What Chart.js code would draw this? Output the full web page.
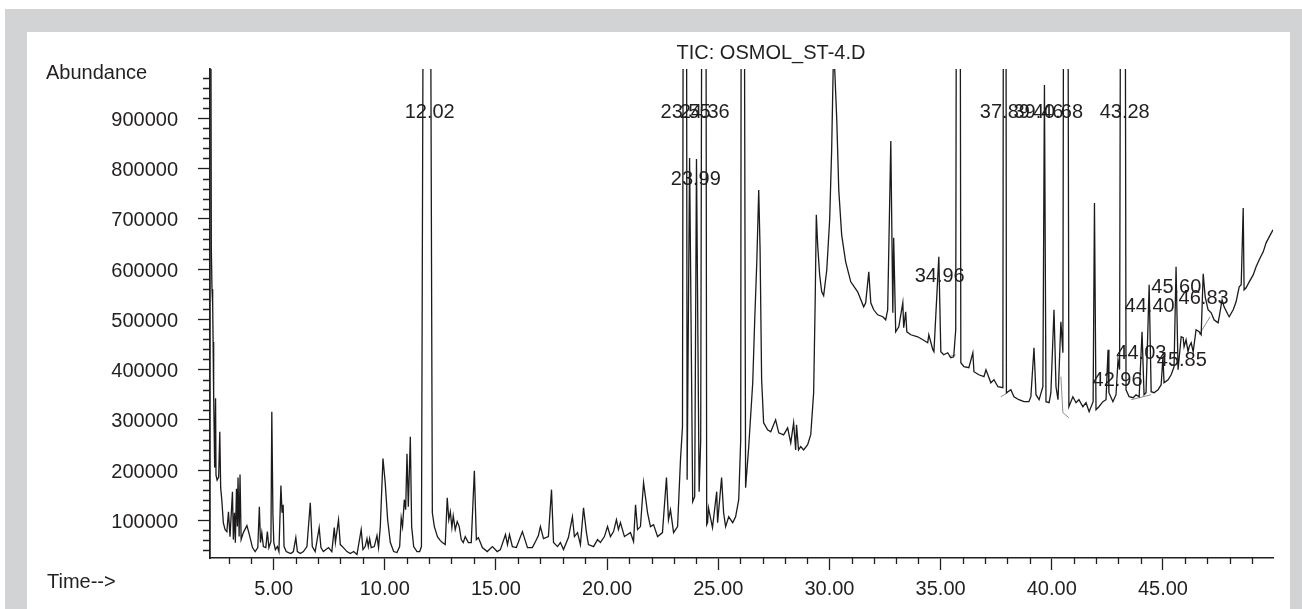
<!DOCTYPE html>
<html>
<head>
<meta charset="utf-8">
<script src="https://cdn.jsdelivr.net/npm/chart.js@4.4.1/dist/chart.umd.min.js"></script>
<style>
  html, body { margin: 0; padding: 0; background: #ffffff; width: 1302px; height: 609px; overflow: hidden; }
  #frame { position: absolute; left: 5px; top: 9px; width: 1297px; height: 600px; background: #d1d3d4; }
  #panel { position: absolute; left: 27px; top: 32px; width: 1263px; height: 577px; background: #ffffff; }
  #wrap { position: absolute; left: 0; top: 0; width: 1302px; height: 609px; }
  .lbl { position: absolute; font-family: "Liberation Sans", Arial, sans-serif; font-size: 20px; line-height: 24px; color: #231f20; white-space: nowrap; }
</style>
</head>
<body>
<div id="frame"></div>
<div id="panel"></div>
<div id="wrap"><canvas id="c" width="1302" height="609"></canvas></div>
<div class="lbl" id="title" style="left:771px; top:40px; transform:translateX(-50%);">TIC: OSMOL_ST-4.D</div>
<div class="lbl" style="left:46px; top:60px;">Abundance</div>
<div class="lbl" style="left:47px; top:569px;">Time--&gt;</div>
<script>
// ---- data (time in min, abundance) ----
const retentionTime = [
  2.15, 2.20, 2.23, 2.26, 2.28, 2.30, 2.31, 2.35, 2.39, 2.41, 2.46, 2.53, 2.58, 2.62, 2.67, 2.74, 2.82, 2.90, 2.97, 3.04,
  3.15, 3.19, 3.24, 3.28, 3.33, 3.37, 3.40, 3.45, 3.49, 3.54, 3.64, 3.80, 3.91, 4.05, 4.17, 4.29, 4.36, 4.41, 4.47, 4.54,
  4.65, 4.72, 4.79, 4.88, 4.92, 4.97, 5.01, 5.08, 5.17, 5.24, 5.33, 5.38, 5.43, 5.47, 5.57, 5.67, 5.78, 5.89, 6.00, 6.07,
  6.20, 6.34, 6.50, 6.65, 6.74, 6.87, 7.05, 7.13, 7.24, 7.47, 7.62, 7.73, 7.78, 7.92, 8.00, 8.14, 8.30, 8.45, 8.60, 8.75,
  8.94, 9.02, 9.12, 9.20, 9.26, 9.32, 9.39, 9.53, 9.65, 9.72, 9.80, 9.92, 10.02, 10.13, 10.25, 10.40, 10.55, 10.67, 10.74, 10.80,
  10.88, 10.94, 11.00, 11.06, 11.15, 11.21, 11.30, 11.45, 11.57, 11.65, 11.89, 12.14, 12.23, 12.37, 12.50, 12.59, 12.72, 12.81, 12.88, 12.95,
  13.02, 13.08, 13.17, 13.26, 13.35, 13.44, 13.53, 13.62, 13.76, 13.89, 14.03, 14.12, 14.21, 14.39, 14.61, 14.84, 15.06, 15.20, 15.43, 15.52,
  15.61, 15.74, 15.92, 16.19, 16.42, 16.64, 16.78, 16.91, 17.00, 17.14, 17.36, 17.50, 17.59, 17.77, 17.90, 18.04, 18.26, 18.44, 18.53, 18.67,
  18.80, 18.94, 19.07, 19.16, 19.39, 19.57, 19.70, 19.88, 20.02, 20.15, 20.29, 20.42, 20.51, 20.60, 20.78, 20.92, 21.05, 21.19, 21.28, 21.37,
  21.50, 21.64, 21.82, 21.95, 22.09, 22.27, 22.49, 22.67, 22.76, 22.85, 22.99, 23.17, 23.30, 23.39, 23.51, 23.60, 23.71, 23.85, 23.94, 24.02,
  24.14, 24.21, 24.38, 24.48, 24.52, 24.56, 24.74, 24.93, 24.97, 25.15, 25.24, 25.33, 25.47, 25.65, 25.78, 25.92, 26.01, 26.07, 26.23, 26.37,
  26.55, 26.64, 26.73, 26.82, 26.88, 26.95, 27.04, 27.22, 27.36, 27.58, 27.72, 27.94, 28.12, 28.26, 28.39, 28.48, 28.52, 28.61, 28.71, 28.84,
  29.02, 29.16, 29.29, 29.36, 29.41, 29.47, 29.56, 29.65, 29.74, 29.88, 30.01, 30.10, 30.19, 30.33, 30.42, 30.55, 30.73, 30.96, 31.27, 31.54,
  31.63, 31.77, 31.86, 31.99, 32.17, 32.40, 32.53, 32.62, 32.76, 32.85, 32.89, 32.98, 33.12, 33.30, 33.34, 33.43, 33.48, 33.66, 33.97, 34.20,
  34.42, 34.47, 34.65, 34.70, 34.92, 35.01, 35.14, 35.32, 35.46, 35.59, 35.68, 35.80, 35.91, 36.05, 36.27, 36.45, 36.50, 36.72, 36.95, 37.04,
  37.26, 37.40, 37.58, 37.80, 37.89, 37.96, 38.16, 38.30, 38.52, 38.75, 38.97, 39.06, 39.20, 39.29, 39.43, 39.60, 39.67, 39.74, 39.88, 39.96,
  40.10, 40.19, 40.28, 40.41, 40.50, 40.62, 40.77, 40.95, 41.09, 41.22, 41.40, 41.54, 41.68, 41.86, 41.92, 41.99, 42.12, 42.30, 42.44, 42.53,
  42.57, 42.75, 42.89, 42.98, 43.05, 43.21, 43.34, 43.48, 43.66, 43.79, 43.93, 44.06, 44.15, 44.24, 44.38, 44.47, 44.60, 44.78, 44.92, 45.00,
  45.05, 45.23, 45.37, 45.50, 45.59, 45.68, 45.82, 45.91, 45.95, 46.04, 46.13, 46.18, 46.27, 46.36, 46.49, 46.63, 46.72, 46.81, 46.90, 47.03,
  47.17, 47.30, 47.48, 47.53, 47.66, 47.75, 47.93, 47.98, 48.16, 48.29, 48.43, 48.52, 48.61, 48.65, 48.74, 48.88, 49.06, 49.19, 49.33, 49.51,
  49.64, 49.78, 49.95
];
const abundance = [
  1800000, 640000, 560000, 530000, 455000, 340000, 350000, 205000, 343000, 190000, 180000, 186000, 276000, 165000, 141000, 95000, 81500, 77500, 117000, 67600,
  157000, 61600, 115000, 55600, 163000, 87500, 185000, 67600, 191000, 61600, 75500, 89500, 71600, 45700, 37800, 45700, 127000, 55700, 75500, 47700,
  45700, 77500, 45700, 57700, 316000, 111000, 55700, 41700, 47700, 37800, 169000, 115000, 131000, 47700, 37800, 35800, 33800, 37800, 65600, 37800,
  33800, 37800, 47700, 135000, 47700, 37800, 85500, 45700, 37800, 45700, 37800, 85500, 55700, 101000, 51700, 45700, 37800, 33800, 37800, 31800,
  81500, 41700, 47700, 63600, 47700, 63600, 45700, 47700, 69600, 45700, 87500, 222700, 175000, 101000, 55700, 37800, 35800, 47700, 105000, 87500,
  141000, 121000, 232600, 127000, 266400, 87500, 47700, 37800, 37800, 47700, 3500000, 115000, 87500, 67600, 59600, 55700, 51700, 145000, 101000, 117000,
  85500, 109000, 81500, 97400, 87500, 61600, 55700, 67600, 55700, 55700, 198800, 61600, 65600, 45700, 37800, 47700, 37800, 41700, 71600, 51700,
  71600, 47700, 45700, 77500, 45700, 45700, 57700, 69600, 87500, 63600, 67600, 161000, 55700, 47700, 55700, 41700, 65600, 107000, 67600, 75500,
  51700, 125000, 75500, 51700, 47700, 61600, 55700, 67600, 87500, 67600, 77500, 101000, 81500, 95400, 67600, 71600, 75500, 57700, 131000, 81500,
  87500, 174900, 115000, 87500, 91400, 67600, 75500, 184900, 101000, 121000, 75500, 87500, 220000, 286000, 3500000, 180900, 821000, 137000, 147000, 819000,
  157000, 260000, 3500000, 91400, 95400, 125000, 85500, 157000, 95400, 185000, 115000, 87500, 107000, 95400, 107000, 141000, 260000, 3000000, 165000, 246500,
  373700, 499000, 610000, 757000, 640000, 380000, 294000, 280000, 276000, 300000, 274000, 270000, 284000, 254000, 294000, 240000, 290000, 240000, 246500, 240000,
  250500, 270400, 354000, 539000, 708000, 648000, 588000, 555000, 547000, 598000, 698000, 837000, 1050000, 896600, 757000, 668000, 614000, 574500, 554700, 524800,
  532800, 594400, 532800, 518900, 508900, 505000, 499000, 518900, 854800, 512900, 662000, 475100, 485100, 532800, 483100, 514900, 475100, 469200, 465200, 459200,
  453300, 469200, 439300, 435400, 624200, 435400, 429400, 433400, 423400, 425400, 479100, 3500000, 413500, 405600, 403600, 433400, 395600, 389600, 385700, 399600,
  373700, 379700, 365800, 363800, 3500000, 353900, 359800, 345900, 340000, 336000, 336000, 345900, 443300, 349900, 340000, 365800, 966200, 336000, 334000, 353900,
  518900, 365800, 340000, 495000, 433400, 3500000, 326000, 345900, 334000, 340000, 326000, 334000, 316100, 336000, 731600, 320100, 326000, 336000, 340000, 439300,
  353900, 336000, 349900, 419500, 400000, 3500000, 359800, 345900, 343900, 349900, 345900, 475100, 349900, 353900, 568600, 355900, 353900, 359800, 369800, 425400,
  373700, 379700, 389600, 405600, 604400, 399600, 465200, 463200, 445300, 459200, 435400, 445300, 453300, 435400, 479100, 475100, 469200, 590400, 544700, 518900,
  512900, 499000, 493000, 505000, 538700, 524800, 508900, 505000, 518900, 534800, 564600, 568600, 721600, 558600, 562600, 574500, 588400, 604400, 618300, 634200,
  652100, 664000, 677900
];
// integration baselines (gray), null separates segments
const baselineTime = [11.64, 12.63, null, 23.39, 23.62, null, 35.37, 35.68, null, 37.71, 38.02, null, 40.41, 40.50, 40.77, null, 43.57, 44.47, null, 46.63, 47.12];
const baselineAbund = [33800, 51700, null, 145100, 186900, null, 425400, 429400, null, 345900, 353900, null, 385700, 314100, 304100, null, 340000, 349900, null, 469200, 505000];

// peak annotations: text, anchor time, anchor abundance
const peakLabels = ["12.02", "23.55", "24.36", "37.89", "39.46", "40.68", "43.28", "23.99", "34.96", "45.60", "46.83", "44.40", "44.03", "45.85", "42.96"];
const peakLabelTime = [12.02, 23.53, 24.39, 37.89, 39.40, 40.28, 43.28, 23.99, 34.96, 45.60, 46.83, 44.40, 44.03, 45.85, 42.96];
const peakLabelAbund = [912000, 912000, 912000, 912000, 912000, 912000, 912000, 778300, 584500, 562600, 540700, 524800, 431400, 417500, 377700];

// axis ticks
const xMajorTicks = [5, 10, 15, 20, 25, 30, 35, 40, 45];
const xMinorTicks = [3, 4, 6, 7, 8, 9, 11, 12, 13, 14, 16, 17, 18, 19, 21, 22, 23, 24, 26, 27, 28, 29, 31, 32, 33, 34, 36, 37, 38, 39, 41, 42, 43, 44, 46, 47, 48, 49];
const yMajorTicks = [100000, 200000, 300000, 400000, 500000, 600000, 700000, 800000, 900000];
const yMinorStep = 20000;
const xRange = [2.14, 49.95];
const yRange = [25000, 998000];

// ---- build ----
const INK = '#231f20';
const FONT = '"Liberation Sans", Arial, sans-serif';
const yMinorTicks = [];
for (let v = 40000; v <= 980000; v += yMinorStep) if (v % 100000 !== 0) yMinorTicks.push(v);

const tracePts = retentionTime.map((t, i) => ({x: t, y: abundance[i]}));
const basePts = baselineTime.map((t, i) => (t === null ? {x: null, y: null} : {x: t, y: baselineAbund[i]}));

const minorTickPlugin = {
  id: 'minorTicks',
  afterDraw(chart) {
    const ctx = chart.ctx, xs = chart.scales.x, ys = chart.scales.y, a = chart.chartArea;
    ctx.save();
    ctx.strokeStyle = INK; ctx.lineWidth = 1.3;
    ctx.beginPath();
    yMinorTicks.forEach(v => { const y = Math.round(ys.getPixelForValue(v)) + 0.5; ctx.moveTo(a.left, y); ctx.lineTo(a.left - 7, y); });
    xMinorTicks.forEach(v => { const x = Math.round(xs.getPixelForValue(v)) + 0.5; ctx.moveTo(x, a.bottom); ctx.lineTo(x, a.bottom + 6); });
    ctx.stroke();
    ctx.restore();
  }
};
const peakLabelPlugin = {
  id: 'peakLabels',
  beforeDatasetsDraw(chart) {
    const ctx = chart.ctx, xs = chart.scales.x, ys = chart.scales.y;
    ctx.save();
    ctx.font = '20px ' + FONT;
    ctx.fillStyle = INK; ctx.textAlign = 'center'; ctx.textBaseline = 'middle';
    peakLabels.forEach((txt, i) => ctx.fillText(txt, xs.getPixelForValue(peakLabelTime[i]), ys.getPixelForValue(peakLabelAbund[i])));
    ctx.restore();
  }
};

new Chart(document.getElementById('c'), {
  type: 'line',
  data: {
    datasets: [
      { data: tracePts, borderColor: '#1c1a1b', borderWidth: 1.3, pointRadius: 0, tension: 0, fill: false, spanGaps: false, order: 1 },
      { data: basePts, borderColor: '#8c8c8c', borderWidth: 1, pointRadius: 0, tension: 0, fill: false, spanGaps: false, order: 2 }
    ]
  },
  options: {
    responsive: false, animation: false, events: [],
    parsing: false, normalized: true,
    layout: { padding: { left: 20, right: 29, top: 69, bottom: 0 } },
    plugins: { legend: { display: false }, tooltip: { enabled: false }, title: { display: false } },
    scales: {
      x: {
        type: 'linear', min: xRange[0], max: xRange[1],
        afterBuildTicks: s => { s.ticks = xMajorTicks.concat(xMinorTicks).sort((a, b) => a - b).map(v => ({value: v})); },
        afterFit: s => { s.height = 51; },
        border: { display: true, color: INK, width: 1.5 },
        grid: { display: true, drawOnChartArea: false, drawTicks: true, tickLength: 12, tickWidth: 1.3,
                tickColor: c => (c.tick && xMajorTicks.includes(c.tick.value)) ? INK : 'rgba(0,0,0,0)' },
        ticks: { autoSkip: false, maxRotation: 0, minRotation: 0, padding: 7, color: INK, font: { family: FONT, size: 20 },
                 callback: v => xMajorTicks.includes(v) ? v.toFixed(2) : '' }
      },
      y: {
        type: 'linear', min: yRange[0], max: yRange[1],
        afterBuildTicks: s => { s.ticks = yMajorTicks.concat(yMinorTicks).sort((a, b) => a - b).map(v => ({value: v})); },
        afterFit: s => { s.width = 190; },
        border: { display: true, color: INK, width: 1.8 },
        grid: { display: true, drawOnChartArea: false, drawTicks: true, tickLength: 12, tickWidth: 1.3,
                tickColor: c => (c.tick && yMajorTicks.includes(c.tick.value)) ? INK : 'rgba(0,0,0,0)' },
        ticks: { autoSkip: false, padding: 20, labelOffset: 2, color: INK, font: { family: FONT, size: 20 },
                 callback: v => yMajorTicks.includes(v) ? String(v) : '' }
      }
    }
  },
  plugins: [minorTickPlugin, peakLabelPlugin]
});
</script>
</body>
</html>
